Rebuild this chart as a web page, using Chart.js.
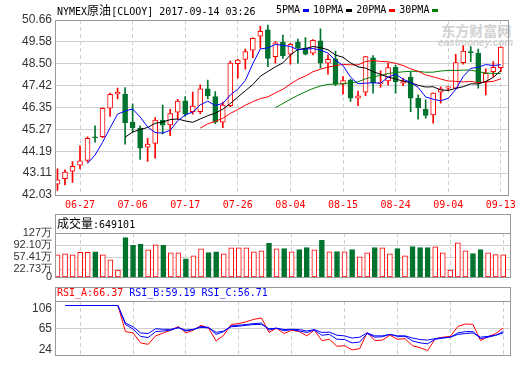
<!DOCTYPE html>
<html>
<head>
<meta charset="utf-8">
<script src="https://cdn.jsdelivr.net/npm/chart.js@4.4.0/dist/chart.umd.min.js"></script>
<style>
  html, body { margin: 0; padding: 0; background: #fff; }
  #wrap { position: relative; width: 520px; height: 365px; overflow: hidden; }
  canvas { position: absolute; left: 0; }
  .mono { position: absolute; font-family: 'DejaVu Sans Mono', monospace; font-size: 10px; line-height: 12px; white-space: pre; color: #000; }
  .cjk { font-family: 'Noto Sans CJK SC', sans-serif; font-size: 12px; }
  .key { display: inline-block; width: 6px; height: 3px; margin: 0 4px 0 3px; vertical-align: middle; }
  #logo { position: absolute; left: 438px; top: 22px; color: #d2d2d2; text-align: right; }
  #logo .big { font-family: 'Noto Sans CJK SC', sans-serif; font-weight: bold; font-size: 14px; line-height: 16px; }
  #logo .small { font-family: 'Liberation Sans', sans-serif; font-weight: bold; font-style: italic; font-size: 10px; line-height: 10px; margin-right: -2px; }
</style>
</head>
<body>
<div id="wrap">
  <div id="logo"><div class="big">东方财富网</div><div class="small">eastmoney.com</div></div>
  <canvas id="price-chart" width="520" height="215" style="top:0"></canvas>
  <canvas id="volume-chart" width="520" height="73" style="top:214px"></canvas>
  <canvas id="rsi-chart" width="520" height="78" style="top:287px"></canvas>
  <div class="mono" style="left:57px;top:4px">NYMEX<span class="cjk">原油</span>[CLOOY] 2017-09-14 03:26</div>
  <div class="mono" style="left:276px;top:4px">5PMA<span class="key" style="background:#0000ff"></span>10PMA<span class="key" style="background:#000"></span>20PMA<span class="key" style="background:#ff0000"></span>30PMA<span class="key" style="background:#008000"></span></div>
  <div class="mono" id="volume-title" style="left:57px;top:217px"></div>
  <div class="mono" id="rsi-title" style="left:57px;top:287px"></div>
</div>
<script>
// Trading days
const dates = ['06-22', '06-23', '06-26', '06-27', '06-28', '06-29', '06-30', '07-03', '07-04', '07-05',
  '07-06', '07-07', '07-10', '07-11', '07-12', '07-13', '07-14', '07-17', '07-18', '07-19',
  '07-20', '07-21', '07-24', '07-25', '07-26', '07-27', '07-28', '07-31', '08-01', '08-02',
  '08-03', '08-04', '08-07', '08-08', '08-09', '08-10', '08-11', '08-14', '08-15', '08-16',
  '08-17', '08-18', '08-21', '08-22', '08-23', '08-24', '08-25', '08-28', '08-29', '08-30',
  '08-31', '09-01', '09-04', '09-05', '09-06', '09-07', '09-08', '09-11', '09-12', '09-13'];
const dateTickIndex = [3, 10, 17, 24, 31, 38, 45, 52, 59];

// Daily prices
const openPrices = [42.57, 42.83, 43.21, 43.50, 43.73, 44.90, 44.91, 46.31, 47.01, 47.01,
  45.62, 45.33, 44.39, 44.57, 45.72, 45.49, 46.11, 46.67, 46.14, 46.14,
  47.26, 46.88, 45.62, 46.44, 48.51, 48.72, 49.17, 49.86, 50.17, 48.85,
  49.56, 48.97, 49.56, 49.27, 49.02, 49.63, 48.53, 48.74, 47.49, 47.69,
  46.80, 47.10, 48.80, 47.52, 47.66, 48.33, 47.54, 47.84, 46.80, 46.26,
  45.98, 47.10, 47.30, 47.30, 48.56, 49.08, 49.02, 47.62, 48.11, 48.31];
const closePrices = [42.78, 43.16, 43.45, 43.71, 44.83, 44.85, 46.31, 47.00, 47.10, 45.60,
  45.35, 44.34, 44.54, 45.72, 45.47, 46.04, 46.66, 46.01, 46.42, 47.26,
  46.93, 45.62, 46.47, 48.53, 48.68, 49.10, 49.76, 50.10, 48.77, 49.54,
  48.90, 49.46, 49.27, 48.97, 49.66, 48.53, 48.72, 47.49, 47.67, 46.80,
  46.92, 48.85, 47.57, 47.57, 48.31, 47.62, 47.62, 46.80, 46.34, 45.95,
  47.05, 47.26, 47.37, 48.56, 49.13, 49.05, 47.54, 48.03, 48.33, 49.32];
const highPrices = [43.32, 43.27, 43.68, 44.45, 44.90, 45.44, 46.33, 47.06, 47.30, 47.33,
  46.52, 45.44, 44.83, 45.85, 46.47, 46.26, 46.75, 46.88, 47.10, 47.46,
  47.70, 47.13, 46.61, 48.64, 48.72, 49.22, 49.78, 50.36, 50.41, 49.59,
  49.92, 49.51, 49.72, 49.79, 49.69, 50.22, 48.94, 49.13, 47.87, 47.75,
  47.16, 48.87, 48.90, 48.15, 48.53, 48.44, 47.79, 48.11, 46.97, 46.72,
  47.07, 47.37, 47.39, 48.97, 49.39, 49.35, 49.23, 48.25, 48.61, 49.34];
const lowPrices = [42.25, 42.53, 42.65, 43.32, 43.65, 44.64, 44.86, 45.90, 46.77, 44.54,
  45.13, 43.78, 43.68, 43.85, 45.04, 44.96, 45.75, 45.90, 46.01, 46.04,
  46.77, 45.55, 45.35, 46.39, 47.79, 48.23, 48.80, 49.27, 48.36, 48.53,
  48.77, 48.48, 48.53, 48.94, 48.94, 48.28, 47.99, 47.42, 47.00, 46.64,
  46.44, 46.93, 47.05, 47.33, 47.46, 47.05, 47.42, 46.14, 45.77, 45.82,
  45.57, 46.56, 47.16, 47.26, 48.48, 48.61, 47.30, 46.97, 47.87, 48.11];

// Volume, in 万
const volumes = [64.4, 67.3, 64.4, 72.0, 72.0, 73.1, 64.4, 50.0, 21.0, 113.7,
  91.4, 94.3, 78.9, 93.4, 91.4, 70.2, 70.2, 52.9, 61.6, 81.8,
  71.1, 73.1, 67.3, 84.7, 84.7, 84.7, 73.1, 76.0, 97.2, 81.8,
  82.7, 73.1, 79.8, 85.6, 78.9, 105.9, 73.1, 74.0, 73.1, 79.8,
  58.7, 70.2, 85.6, 84.7, 67.3, 82.7, 61.6, 88.5, 85.6, 85.6,
  87.6, 70.2, 21.0, 99.2, 76.0, 68.2, 79.8, 70.2, 65.3, 64.9101];

// RSI lines
const rsiA = [null, 111.4, 111.4, 111.4, 111.4, 111.4, 111.4, 111.4, 111.4, 59.2,
  56.5, 36.6, 33.7, 50.7, 56.5, 62.1, 69.4, 56.5, 62.1, 71.8,
  66.0, 40.5, 51.9, 73.5, 75.2, 79.1, 83.7, 86.4, 57.5, 66.0,
  55.3, 62.1, 59.2, 50.7, 62.1, 41.2, 43.9, 29.8, 31.0, 22.5,
  25.2, 57.5, 41.2, 42.2, 51.9, 43.9, 45.1, 31.0, 26.9, 21.3,
  45.1, 48.0, 49.7, 69.4, 74.5, 73.5, 41.2, 49.0, 55.3, 66.37];
const rsiB = [null, 111.4, 111.4, 111.4, 111.4, 111.4, 111.4, 111.4, 111.4, 73.5,
  64.3, 49.7, 47.3, 59.2, 60.4, 62.1, 67.7, 60.4, 63.3, 69.4,
  67.7, 53.6, 59.2, 70.6, 71.8, 73.5, 75.2, 76.2, 62.1, 66.0,
  60.9, 63.3, 60.4, 57.5, 62.1, 51.9, 53.6, 43.9, 43.4, 36.6,
  38.3, 55.3, 48.0, 49.0, 53.6, 49.7, 49.7, 40.5, 36.6, 34.9,
  43.9, 46.3, 48.0, 56.5, 59.2, 59.2, 45.1, 48.0, 51.9, 59.19];
const rsiC = [null, 111.4, 111.4, 111.4, 111.4, 111.4, 111.4, 111.4, 111.4, 76.2,
  68.9, 56.5, 55.3, 65.0, 63.8, 63.8, 66.7, 62.1, 63.8, 67.7,
  66.7, 57.5, 60.4, 68.9, 70.1, 71.8, 73.5, 73.5, 65.0, 66.0,
  63.3, 63.8, 63.3, 60.4, 63.3, 57.5, 58.2, 51.9, 50.7, 46.3,
  48.0, 56.5, 50.7, 50.7, 53.6, 50.7, 50.7, 46.3, 43.4, 42.2,
  45.1, 46.8, 48.0, 53.6, 55.3, 56.5, 48.0, 49.7, 51.9, 56.71];

// Axis ticks
const priceTicks = [42.03, 43.11, 44.19, 45.27, 46.35, 47.42, 48.50, 49.58, 50.66];
const volumeTicks = [0, 22.73, 57.41, 92.10, 127];
const volumeTickLabels = ['0', '22.73万', '57.41万', '92.10万', '127万'];
const rsiTicks = [24, 65, 106];

// Colors
const upColor = '#ff0000';
const downColor = '#00732f';
const gridColor = '#cfcfcf';
const frameColor = '#999999';
const monoFont = "'DejaVu Sans Mono', monospace";

Chart.defaults.font.family = "'Liberation Sans', Arial, sans-serif";
Chart.defaults.font.size = 12;

const isUp = openPrices.map((o, i) => closePrices[i] >= o);
const candleColor = isUp.map(u => u ? upColor : downColor);
const candleFill = isUp.map(u => u ? '#ffffff' : downColor);

document.getElementById('volume-title').innerHTML =
  '<span class="cjk">成交量</span>:' + Math.round(volumes[volumes.length - 1] * 10000);
document.getElementById('rsi-title').innerHTML =
  '<span style="color:#ff0000">RSI_A:' + rsiA[rsiA.length - 1].toFixed(2) + '</span> ' +
  '<span style="color:#0000ff">RSI_B:' + rsiB[rsiB.length - 1].toFixed(2) + '</span> ' +
  '<span style="color:#0000ff">RSI_C:' + rsiC[rsiC.length - 1].toFixed(2) + '</span>';

function movingAverage(values, n) {
  return values.map((v, i) => {
    if (i < n - 1) return null;
    let sum = 0;
    for (let k = i - n + 1; k <= i; k++) sum += values[k];
    return sum / n;
  });
}

function points(values) {
  return values.map((v, i) => ({ x: i, y: v }));
}

// Frame round the plot area (and the title row of the lower panels)
const framePlugin = {
  id: 'frame',
  afterDraw(chart, args, opts) {
    const { ctx, chartArea: a } = chart;
    const left = Math.round(a.left) + 0.5;
    const right = Math.round(a.right) + 0.5;
    const top = Math.round(a.top) + 0.5;
    const bottom = Math.round(a.bottom) + 0.5;
    ctx.save();
    ctx.strokeStyle = frameColor;
    ctx.lineWidth = 1;
    ctx.strokeRect(left, top, right - left, bottom - top);
    if (opts.boxTop !== undefined) {
      ctx.strokeRect(left, opts.boxTop + 0.5, right - left, bottom - opts.boxTop - 0.5);
    }
    ctx.restore();
  }
};

function xAxis(showLabels) {
  return {
    type: 'linear',
    min: -0.33,
    max: 59.9,
    offset: false,
    afterBuildTicks: s => { s.ticks = dateTickIndex.map(v => ({ value: v })); },
    afterFit: s => { s.height = showLabels ? 20 : 0; },
    grid: { color: gridColor, drawTicks: false, offset: false },
    border: { display: false, dash: [4, 3] },
    ticks: {
      display: showLabels,
      autoSkip: false,
      maxRotation: 0,
      padding: 4,
      color: '#ff0000',
      font: { family: monoFont, size: 10 },
      callback: v => dates[v]
    }
  };
}

function yAxis(min, max, ticks, labelFn, fontSize, gridFn) {
  return {
    min: min,
    max: max,
    afterBuildTicks: s => { s.ticks = ticks.map(v => ({ value: v })); },
    afterFit: s => { s.width = 55; },
    grid: { color: gridFn || gridColor, drawTicks: false },
    border: { display: false },
    ticks: { autoSkip: false, padding: 3, color: '#333', font: { size: fontSize }, callback: labelFn }
  };
}

const baseOptions = {
  responsive: false,
  animation: false,
  events: [],
  devicePixelRatio: 1,
  plugins: { legend: { display: false }, tooltip: { enabled: false } }
};

createPriceChart();
createVolumeChart();
createRsiChart();

// Price chart: candles + moving averages
function createPriceChart() {
  const ctx = document.getElementById('price-chart').getContext('2d');
  const maLines = [
    { n: 5, color: '#0000ff' },
    { n: 10, color: '#000000' },
    { n: 20, color: '#ff0000' },
    { n: 30, color: '#008000' }
  ];

  const datasets = maLines.map(m => ({
    type: 'line',
    data: points(movingAverage(closePrices, m.n)),
    borderColor: m.color,
    borderWidth: 1,
    pointRadius: 0,
    fill: false,
    order: 0
  }));

  // Candle bodies
  datasets.push({
    type: 'bar',
    data: openPrices.map((o, i) => ({ x: i, y: [Math.min(o, closePrices[i]), Math.max(o, closePrices[i])] })),
    backgroundColor: candleFill,
    borderColor: candleColor,
    borderWidth: 1,
    borderSkipped: false,
    barThickness: 5,
    minBarLength: 1,
    grouped: false,
    order: 1
  });

  // Wicks
  datasets.push({
    type: 'bar',
    data: lowPrices.map((l, i) => ({ x: i, y: [l, highPrices[i]] })),
    backgroundColor: candleColor,
    borderWidth: 0,
    barThickness: 1,
    grouped: false,
    order: 2
  });

  new Chart(ctx, {
    type: 'bar',
    data: { datasets: datasets },
    options: Object.assign({}, baseOptions, {
      layout: { padding: { top: 20, right: 10, bottom: 0, left: 0 } },
      scales: {
        x: xAxis(true),
        y: yAxis(42.03, 50.66, priceTicks, v => v.toFixed(2), 12)
      }
    }),
    plugins: [framePlugin]
  });
}

// Volume chart
function createVolumeChart() {
  const ctx = document.getElementById('volume-chart').getContext('2d');
  new Chart(ctx, {
    type: 'bar',
    data: {
      datasets: [{
        data: points(volumes),
        backgroundColor: candleFill,
        borderColor: candleColor,
        borderWidth: 1,
        borderSkipped: false,
        barThickness: 5
      }]
    },
    options: Object.assign({}, baseOptions, {
      layout: { padding: { top: 19, right: 10, bottom: 7, left: 0 } },
      scales: {
        x: xAxis(false),
        y: yAxis(0, 127, volumeTicks, (v, i) => volumeTickLabels[i], 11)
      },
      plugins: Object.assign({}, baseOptions.plugins, { frame: { boxTop: 0 } })
    }),
    plugins: [framePlugin]
  });
}

// RSI chart
function createRsiChart() {
  const ctx = document.getElementById('rsi-chart').getContext('2d');
  const line = (values, color) => ({
    data: points(values),
    borderColor: color,
    borderWidth: 1,
    pointRadius: 0,
    fill: false
  });
  new Chart(ctx, {
    type: 'line',
    data: {
      datasets: [
        line(rsiC, '#0000ff'),
        line(rsiB, '#0000ff'),
        line(rsiA, '#ff0000')
      ]
    },
    options: Object.assign({}, baseOptions, {
      layout: { padding: { top: 14, right: 10, bottom: 1, left: 0 } },
      scales: {
        x: xAxis(false),
        y: yAxis(12.8, 120.4, rsiTicks, v => String(v), 12,
          c => (c.tick && c.tick.value === 65) ? gridColor : 'rgba(0,0,0,0)')
      },
      plugins: Object.assign({}, baseOptions.plugins, { frame: { boxTop: 0 } })
    }),
    plugins: [framePlugin]
  });
}
</script>
</body>
</html>
